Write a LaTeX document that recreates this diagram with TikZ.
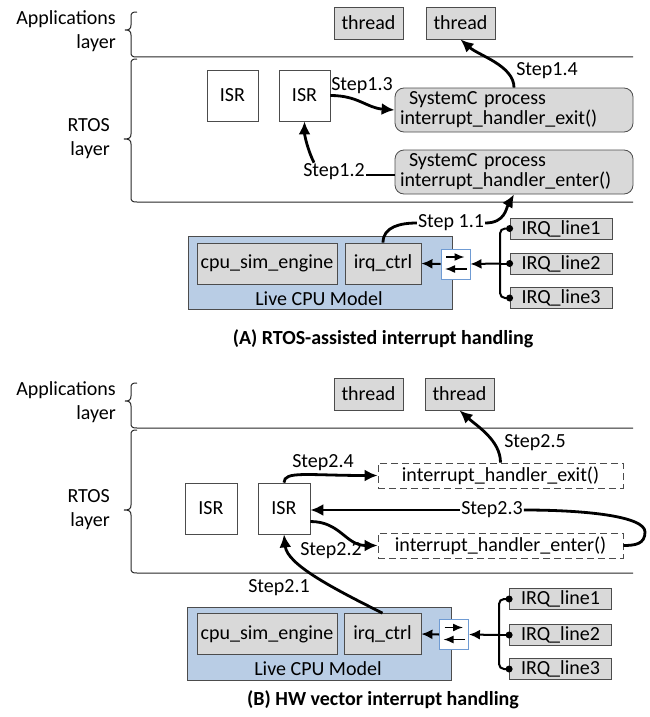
\documentclass[tikz,border=0pt]{standalone}
\usepackage{fontspec}
\setmainfont{Carlito}
\usetikzlibrary{arrows.meta}
\definecolor{cpublue}{HTML}{B9CDE5}
\definecolor{swblue}{HTML}{6F9BD3}
\definecolor{gfill}{HTML}{D9D9D9}
\tikzset{
  bx/.style={draw=black!70, line width=0.8pt, inner sep=0pt, anchor=center},
  isr/.style={bx, fill=white, minimum width=51pt, minimum height=51pt},
  thr/.style={bx, fill=gfill, minimum width=69pt, minimum height=#1},
  proc/.style={bx, fill=gfill, rounded corners=9pt, minimum width=238pt, minimum height=44pt, inner xsep=5pt, text width=228pt, align=left, font=\fontsize{20}{20}\selectfont},
  fnbox/.style={bx, fill=white, dash pattern=on 7pt off 4pt, minimum width=245pt, minimum height=25pt},
  cpu/.style={bx, fill=cpublue, minimum width=264pt, minimum height=73pt},
  gbox/.style={bx, fill=gfill, minimum height=41pt},
  irq/.style={bx, fill=gfill, minimum width=102pt, minimum height=21pt},
  sw/.style={draw=swblue, line width=0.9pt, fill=white, inner sep=0pt, minimum width=29pt, minimum height=30pt},
  conn/.style={line width=2.8pt, -{Latex[length=13pt,width=12pt]}},
  plainln/.style={line width=2.8pt},
  lbl/.style={inner sep=1pt},
  bus/.style={line width=2pt},
  busarr/.style={line width=2pt, -{Latex[length=11pt,width=10pt]}},
  swarr/.style={line width=1.5pt, -{Latex[length=10pt,width=8pt]}},
  lay/.style={line width=1pt, black!85},
  side/.style={align=right, anchor=east, inner sep=0pt},
  captxt/.style={font=\fontsize{20}{24}\selectfont\bfseries}
}
\begin{document}
\begin{tikzpicture}[x=1pt,y=-1pt,font=\fontsize{20}{24}\selectfont]
\useasboundingbox (0,0) rectangle (649,717);

% ================= Panel A =================
\draw[lay] (137,12) .. controls (132,12) and (131,13) .. (131,17) -- (131,25) .. controls (131,29) and (129,30) .. (125,30) .. controls (129,30) and (131,31) .. (131,35) -- (131,52) .. controls (131,56) and (132,57) .. (137,57) -- (633,57);
\draw[lay] (137,59) .. controls (132,59) and (131,60) .. (131,64) -- (131,134) .. controls (131,138) and (129,139) .. (124,139) .. controls (129,139) and (131,140) .. (131,144) -- (131,197) .. controls (131,201) and (132,202) .. (137,202) -- (633,202);
\node[side] (appA) at (116,31) {Applications\\layer};
\node[side] (rtosA) at (110,139) {RTOS\\layer};

\node[thr=32pt] (thA1) at (368.5,23) {thread};
\node[thr=32pt] (thA2) at (460.5,23) {thread};
\node[isr] (isrA1) at (232.5,95.5) {ISR};
\node[isr] (isrA2) at (304.5,95.5) {ISR};
\node[proc] (exA) at (514,110) {\hspace*{9pt}SystemC process\\interrupt\_handler\_exit()};
\node[proc] (enA) at (514,172) {\hspace*{9pt}SystemC process\\interrupt\_handler\_enter()};

\node[cpu] (cpuA) at (320,272.5) {};
\node[gbox, minimum width=140pt] (engA) at (267,263.5) {cpu\_sim\_engine};
\node[gbox, minimum width=76pt] (irqA) at (383,263.5) {irq\_ctrl};
\node[inner sep=0pt] (lcA) at (319,299) {Live CPU Model};
\node[sw] (swA) at (455.5,264) {};
\draw[swarr] ([shift={(-9.5,-7)}]swA.center) -- ([shift={(9,-7)}]swA.center);
\draw[swarr] ([shift={(11,5)}]swA.center) -- ([shift={(-10.5,5)}]swA.center);

\node[irq] (qA1) at (561,228.5) {IRQ\_line1};
\node[irq] (qA2) at (561,263.5) {IRQ\_line2};
\node[irq] (qA3) at (561,298) {IRQ\_line3};
\coordinate (busA) at (500,263.5);
\draw[bus, rounded corners=5pt] (qA1.west) -| (500,298) -- (qA3.west);
\draw[bus] (busA) -- (qA2.west);
\fill (qA1.west) circle (3.5);
\fill (qA2.west) circle (3.5);
\fill (qA3.west) circle (3.5);
\draw[busarr] (busA) -- (swA.east);
\draw[busarr] (swA.west) -- (irqA.east);

% connectors A
\node[lbl] (s13) at (362,86) {Step1.3};
\draw[conn] (isrA2.east) .. controls +(28,0) and +(-28,-2) .. (exA.west);
\node[lbl] (s14) at (547,71) {Step1.4};
\draw[conn] (exA.north) .. controls +(0,-22) and +(18,16) .. (thA2.south);
\node[lbl] (s12) at (334,172) {Step1.2};
\draw[plainln] ([yshift=-3pt]enA.west) -- ([yshift=-3pt]s12.east);
\draw[conn] ([xshift=-20pt]s12.north) .. controls +(-6,-12) and +(0,14) .. (isrA2.south);
\node[lbl] (s11) at (451,223) {Step 1.1};
\draw[plainln] (irqA.north) .. controls +(0,-16) and +(-16,0) .. (s11.west);
\draw[conn] (s11.east) .. controls +(20,0) and +(-8,14) .. (enA.south);

\node[captxt] (capA) at (383,339) {(A) RTOS-assisted interrupt handling};

% ================= Panel B =================
\draw[lay] (137,383) .. controls (132,383) and (131,384) .. (131,388) -- (131,396) .. controls (131,400) and (129,401) .. (125,401) .. controls (129,401) and (131,402) .. (131,406) -- (131,423) .. controls (131,427) and (132,428) .. (137,428) -- (633,428);
\draw[lay] (137,430) .. controls (132,430) and (131,431) .. (131,435) -- (131,505) .. controls (131,509) and (129,510) .. (124,510) .. controls (129,510) and (131,511) .. (131,515) -- (131,568) .. controls (131,572) and (132,573) .. (137,573) -- (633,573);
\node[side] (appB) at (116,402) {Applications\\layer};
\node[side] (rtosB) at (110,509.5) {RTOS\\layer};

\node[thr=32pt] (thB1) at (368.5,394) {thread};
\node[thr=32pt] (thB2) at (459.5,394) {thread};
\node[isr, minimum width=52pt] (isrB1) at (211,508.5) {ISR};
\node[isr, minimum width=52pt] (isrB2) at (284,508.5) {ISR};
\node[fnbox] (exB) at (500.5,475.5) {interrupt\_handler\_exit()};
\node[fnbox] (enB) at (500.5,545.5) {interrupt\_handler\_enter()};

\node[cpu] (cpuB) at (319,643.5) {};
\node[gbox, minimum width=140pt] (engB) at (267,634) {cpu\_sim\_engine};
\node[gbox, minimum width=77pt] (irqB) at (382.5,634) {irq\_ctrl};
\node[inner sep=0pt] (lcB) at (318,669) {Live CPU Model};
\node[sw] (swB) at (454,634.5) {};
\draw[swarr] ([shift={(-9.5,-7)}]swB.center) -- ([shift={(9,-7)}]swB.center);
\draw[swarr] ([shift={(11,5)}]swB.center) -- ([shift={(-10.5,5)}]swB.center);

\node[irq] (qB1) at (560.5,599) {IRQ\_line1};
\node[irq] (qB2) at (560.5,635) {IRQ\_line2};
\node[irq] (qB3) at (560.5,669) {IRQ\_line3};
\coordinate (busB) at (499,635);
\draw[bus, rounded corners=5pt] (qB1.west) -| (499,669) -- (qB3.west);
\draw[bus] (busB) -- (qB2.west);
\fill (qB1.west) circle (3.5);
\fill (qB2.west) circle (3.5);
\fill (qB3.west) circle (3.5);
\draw[busarr] (busB) -- (swB.east);
\draw[busarr] (swB.west) -- (irqB.east);

% connectors B
\node[lbl] (s21) at (279,588) {Step2.1};
\draw[conn] (irqB.north) .. controls +(-50,-25) and +(3,30) .. (isrB2.south);
\node[lbl] (s22) at (331,551) {Step2.2};
\draw[conn] ([yshift=-13pt]isrB2.east) .. controls +(30,0) and +(-32,0) .. (enB.west);
\node[lbl] (s23) at (492,510) {Step2.3};
\draw[plainln] (enB.east) .. controls +(12,0) and +(0,12) .. (645,532) .. controls +(0,-16) and +(60,0) .. (s23.east);
\draw[conn] (s23.west) -- (isrB2.east |- s23.west);
\node[lbl] (s24) at (323,463) {Step2.4};
\draw[conn] (isrB2.north) .. controls +(0,-12) and +(-70,0) .. (exB.west);
\node[lbl] (s25) at (535,443) {Step2.5};
\draw[conn] (exB.north) .. controls +(0,-22) and +(18,16) .. (thB2.south);

\node[captxt] (capB) at (383,700) {(B) HW vector interrupt handling};
\end{tikzpicture}
\end{document}
